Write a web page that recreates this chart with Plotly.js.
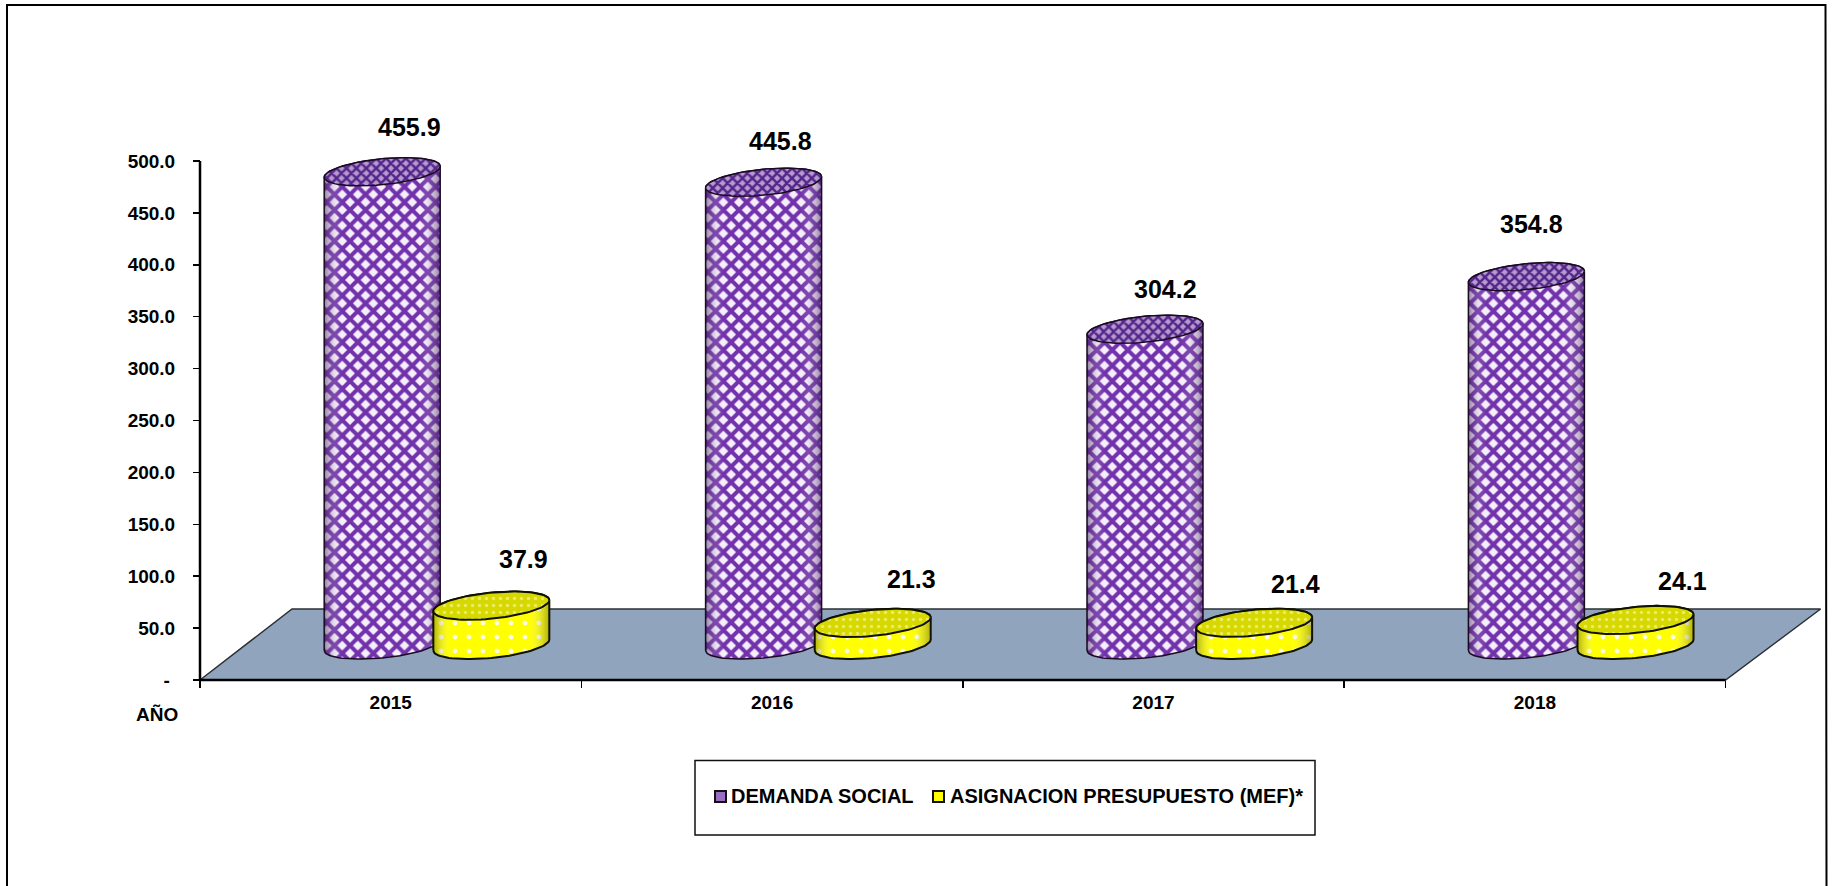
<!DOCTYPE html>
<html>
<head>
<meta charset="utf-8">
<script src="https://cdn.plot.ly/plotly-3.0.1.min.js"></script>
<style>html,body{margin:0;padding:0;background:#fff;overflow:hidden}#chart{width:1832px;height:886px}</style>
</head>
<body>
<div id="chart"></div>
<script>
// ---- chart values ----
const categories = ['2015', '2016', '2017', '2018'];
const demandaSocial = [455.9, 445.8, 304.2, 354.8];
const asignacion = [37.9, 21.3, 21.4, 24.1];
const seriesNames = ['DEMANDA SOCIAL', 'ASIGNACION PRESUPUESTO (MEF)*'];
const yTickValues = [0, 50, 100, 150, 200, 250, 300, 350, 400, 450, 500];
const yTickLabels = ['-\u00a0', '50.0', '100.0', '150.0', '200.0', '250.0', '300.0', '350.0', '400.0', '450.0', '500.0'];

// ---- page geometry ----
const W = 1832, H = 886;
const X0 = 200, CAT = 381.4;          // pixel of x=0, pixels per category
const Y0 = 680, PY = 519 / 500;       // pixel of y=0, pixels per y unit
const FONT = '"Liberation Sans", Arial, sans-serif';

// pixel lengths expressed in axis units
const dx = p => p / CAT, dy = p => p / PY;
const BASE = dy(35);                  // pseudo-3D lift of the cylinder bases
const A = dx(58), B = dy(13), TILT = dy(5.5);
const OFF = [0.4777, 0.7638];         // cylinder centre within a category
const FLOOR_DEPTH = dy(71), FLOOR_LEFT = dx(92), FLOOR_RIGHT = dx(95);

function ell(cx, cy, t0, t1, n) {
  const xs = [], ys = [];
  for (let i = 0; i <= n; i++) {
    const t = t0 + (t1 - t0) * i / n;
    xs.push(cx + A * Math.cos(t));
    ys.push(cy + TILT * Math.cos(t) + B * Math.sin(t));
  }
  return [xs, ys];
}
function silhouette(cx, v) {
  const front = ell(cx, BASE, Math.PI, 2 * Math.PI, 50);   // lower arc, left to right
  const back = ell(cx, BASE + v, 0, Math.PI, 50);          // upper arc, right to left
  const xs = front[0].concat(back[0]); xs.push(xs[0]);
  const ys = front[1].concat(back[1]); ys.push(ys[0]);
  return [xs, ys];
}

const styles = [
  { fg: '#7232ac', bg: '#f6effb', shape: 'x', size: 11, sol: 0.6,
    topFg: '#55268a', topBg: '#b59bd0', topSize: 7, topShape: 'x', topSol: 0.6,
    edge: 'rgba(45,10,75,0.5)', line: '#1a0a22', lw: 1.5 },
  { fg: '#fffde0', bg: '#ffff00', shape: '.', size: 14, sol: 0.1,
    topFg: '#ecec60', topBg: '#d6d800', topSize: 7, topShape: '.', topSol: 0.2,
    edge: 'rgba(110,110,0,0.55)', line: '#111100', lw: 2 }
];

const traces = [];
// floor
const floorX = [0, 4, 4 + FLOOR_RIGHT, FLOOR_LEFT, 0];
const floorY = [0, 0, FLOOR_DEPTH, FLOOR_DEPTH, 0];
traces.push({ type: 'scatter', mode: 'lines', x: floorX, y: floorY, fill: 'toself', fillcolor: '#90a4bd',
  line: { color: '#2b2f33', width: 1.5 }, hoverinfo: 'skip', showlegend: false });
// axis lines
traces.push({ type: 'scatter', mode: 'lines', x: [0, 4], y: [0, 0], line: { color: '#000', width: 2.5 }, hoverinfo: 'skip', showlegend: false });
traces.push({ type: 'scatter', mode: 'lines', x: [0, 0], y: [0, 500], line: { color: '#000', width: 2.5 }, hoverinfo: 'skip', showlegend: false });

function addCylinder(cx, v, st, name) {
  const sil = silhouette(cx, v);
  traces.push({ type: 'scatter', mode: 'lines', x: sil[0], y: sil[1], fill: 'toself', name,
    fillcolor: st.bg, fillpattern: { shape: st.shape, fgcolor: st.fg, bgcolor: st.bg, size: st.size, solidity: st.sol },
    line: { width: 0 }, showlegend: false, hoverinfo: 'skip' });
  traces.push({ type: 'scatter', mode: 'lines', x: sil[0], y: sil[1], fill: 'toself',
    fillgradient: { type: 'horizontal', colorscale: [[0, st.edge], [0.15, 'rgba(255,255,255,0)'], [0.82, 'rgba(255,255,255,0)'], [1, st.edge]] },
    line: { color: st.line, width: st.lw }, showlegend: false, hoverinfo: 'skip' });
  const top = ell(cx, BASE + v, 0, 2 * Math.PI, 90);
  traces.push({ type: 'scatter', mode: 'lines', x: top[0], y: top[1], fill: 'toself',
    fillcolor: st.topBg, fillpattern: { shape: st.topShape, fgcolor: st.topFg, bgcolor: st.topBg, size: st.topSize, solidity: st.topSol },
    line: { color: st.line, width: st.lw }, showlegend: false, hoverinfo: 'skip' });
}
categories.forEach((c, i) => {
  addCylinder(i + OFF[0], demandaSocial[i], styles[0], seriesNames[0] + ' ' + c);
  addCylinder(i + OFF[1], asignacion[i], styles[1], seriesNames[1] + ' ' + c);
});

// value labels
const labelShift = [
  [[27, 45], [17, 41], [21, 40], [5, 53]],
  [[32, 47], [39, 44], [41, 39], [47, 39]]
];
const annotations = [];
[demandaSocial, asignacion].forEach((vals, s) => vals.forEach((v, i) => {
  annotations.push({ x: i + OFF[s], y: BASE + v, xref: 'x', yref: 'y', text: v.toFixed(1), showarrow: false,
    xshift: labelShift[s][i][0], yshift: labelShift[s][i][1],
    font: { family: FONT, size: 25, color: '#000', weight: 700 } });
}));
const px = v => v / W, py = v => 1 - v / H;
annotations.push({ xref: 'paper', yref: 'paper', x: px(156.5), y: py(714), xanchor: 'center', yanchor: 'middle', text: 'AÑO', showarrow: false,
  font: { family: FONT, size: 19, color: '#000', weight: 700 } });
// legend
annotations.push({ xref: 'paper', yref: 'paper', x: px(729), y: py(796), xanchor: 'left', yanchor: 'middle', text: seriesNames[0], showarrow: false,
  font: { family: FONT, size: 20, color: '#000', weight: 700 } });
annotations.push({ xref: 'paper', yref: 'paper', x: px(948), y: py(796), xanchor: 'left', yanchor: 'middle', text: seriesNames[1], showarrow: false,
  font: { family: FONT, size: 20, color: '#000', weight: 700 } });

const rect = (x0, y0, x1, y1, extra) => Object.assign({ type: 'rect', xref: 'paper', yref: 'paper', x0: px(x0), x1: px(x1), y0: py(y0), y1: py(y1) }, extra);
const shapes = [
  { type: 'path', xref: 'paper', yref: 'paper', layer: 'above',
    path: `M ${px(7)} 0 L ${px(7)} ${py(5)} L ${px(1825.5)} ${py(5)} L ${px(1826.5)} 0`, line: { color: '#000', width: 2 } },
  rect(695, 760.5, 1315, 835, { line: { color: '#111', width: 1.5 }, fillcolor: '#fff' }),
  rect(715, 791, 726, 802, { line: { color: '#111', width: 2 }, fillcolor: '#9a6cc4' }),
  rect(933, 791, 944, 802, { line: { color: '#111', width: 2 }, fillcolor: '#ffff00' })
];

const layout = {
  width: W, height: H, margin: { l: 0, r: 0, t: 0, b: 0 }, paper_bgcolor: '#fff', plot_bgcolor: 'rgba(0,0,0,0)',
  showlegend: false, hovermode: false, shapes, annotations,
  xaxis: {
    range: [-X0 / CAT, (W - X0) / CAT], domain: [0, 1], anchor: 'free', position: (H - Y0) / H,
    showgrid: false, zeroline: false, showline: false, ticks: '', tickmode: 'array',
    tickvals: categories.map((c, i) => i + 0.5), ticktext: categories, ticklabelstandoff: 9,
    tickfont: { family: FONT, size: 19, color: '#000', weight: 700 },
    minor: { ticks: 'outside', ticklen: 7, tickwidth: 1.5, tickcolor: '#000', tickmode: 'array', tickvals: [0, 1, 2, 3, 4], showgrid: false }
  },
  yaxis: {
    range: [-(H - Y0) / PY, Y0 / PY], domain: [0, 1], anchor: 'free', position: X0 / W,
    showgrid: false, zeroline: false, showline: false, ticks: 'outside', ticklen: 7, tickwidth: 1.5, tickcolor: '#000',
    tickmode: 'array', tickvals: yTickValues, ticktext: yTickLabels, ticklabelstandoff: 14,
    tickfont: { family: FONT, size: 19, color: '#000', weight: 700 }
  }
};
Plotly.newPlot('chart', traces, layout, { displayModeBar: false, staticPlot: true });
</script>
</body>
</html>
